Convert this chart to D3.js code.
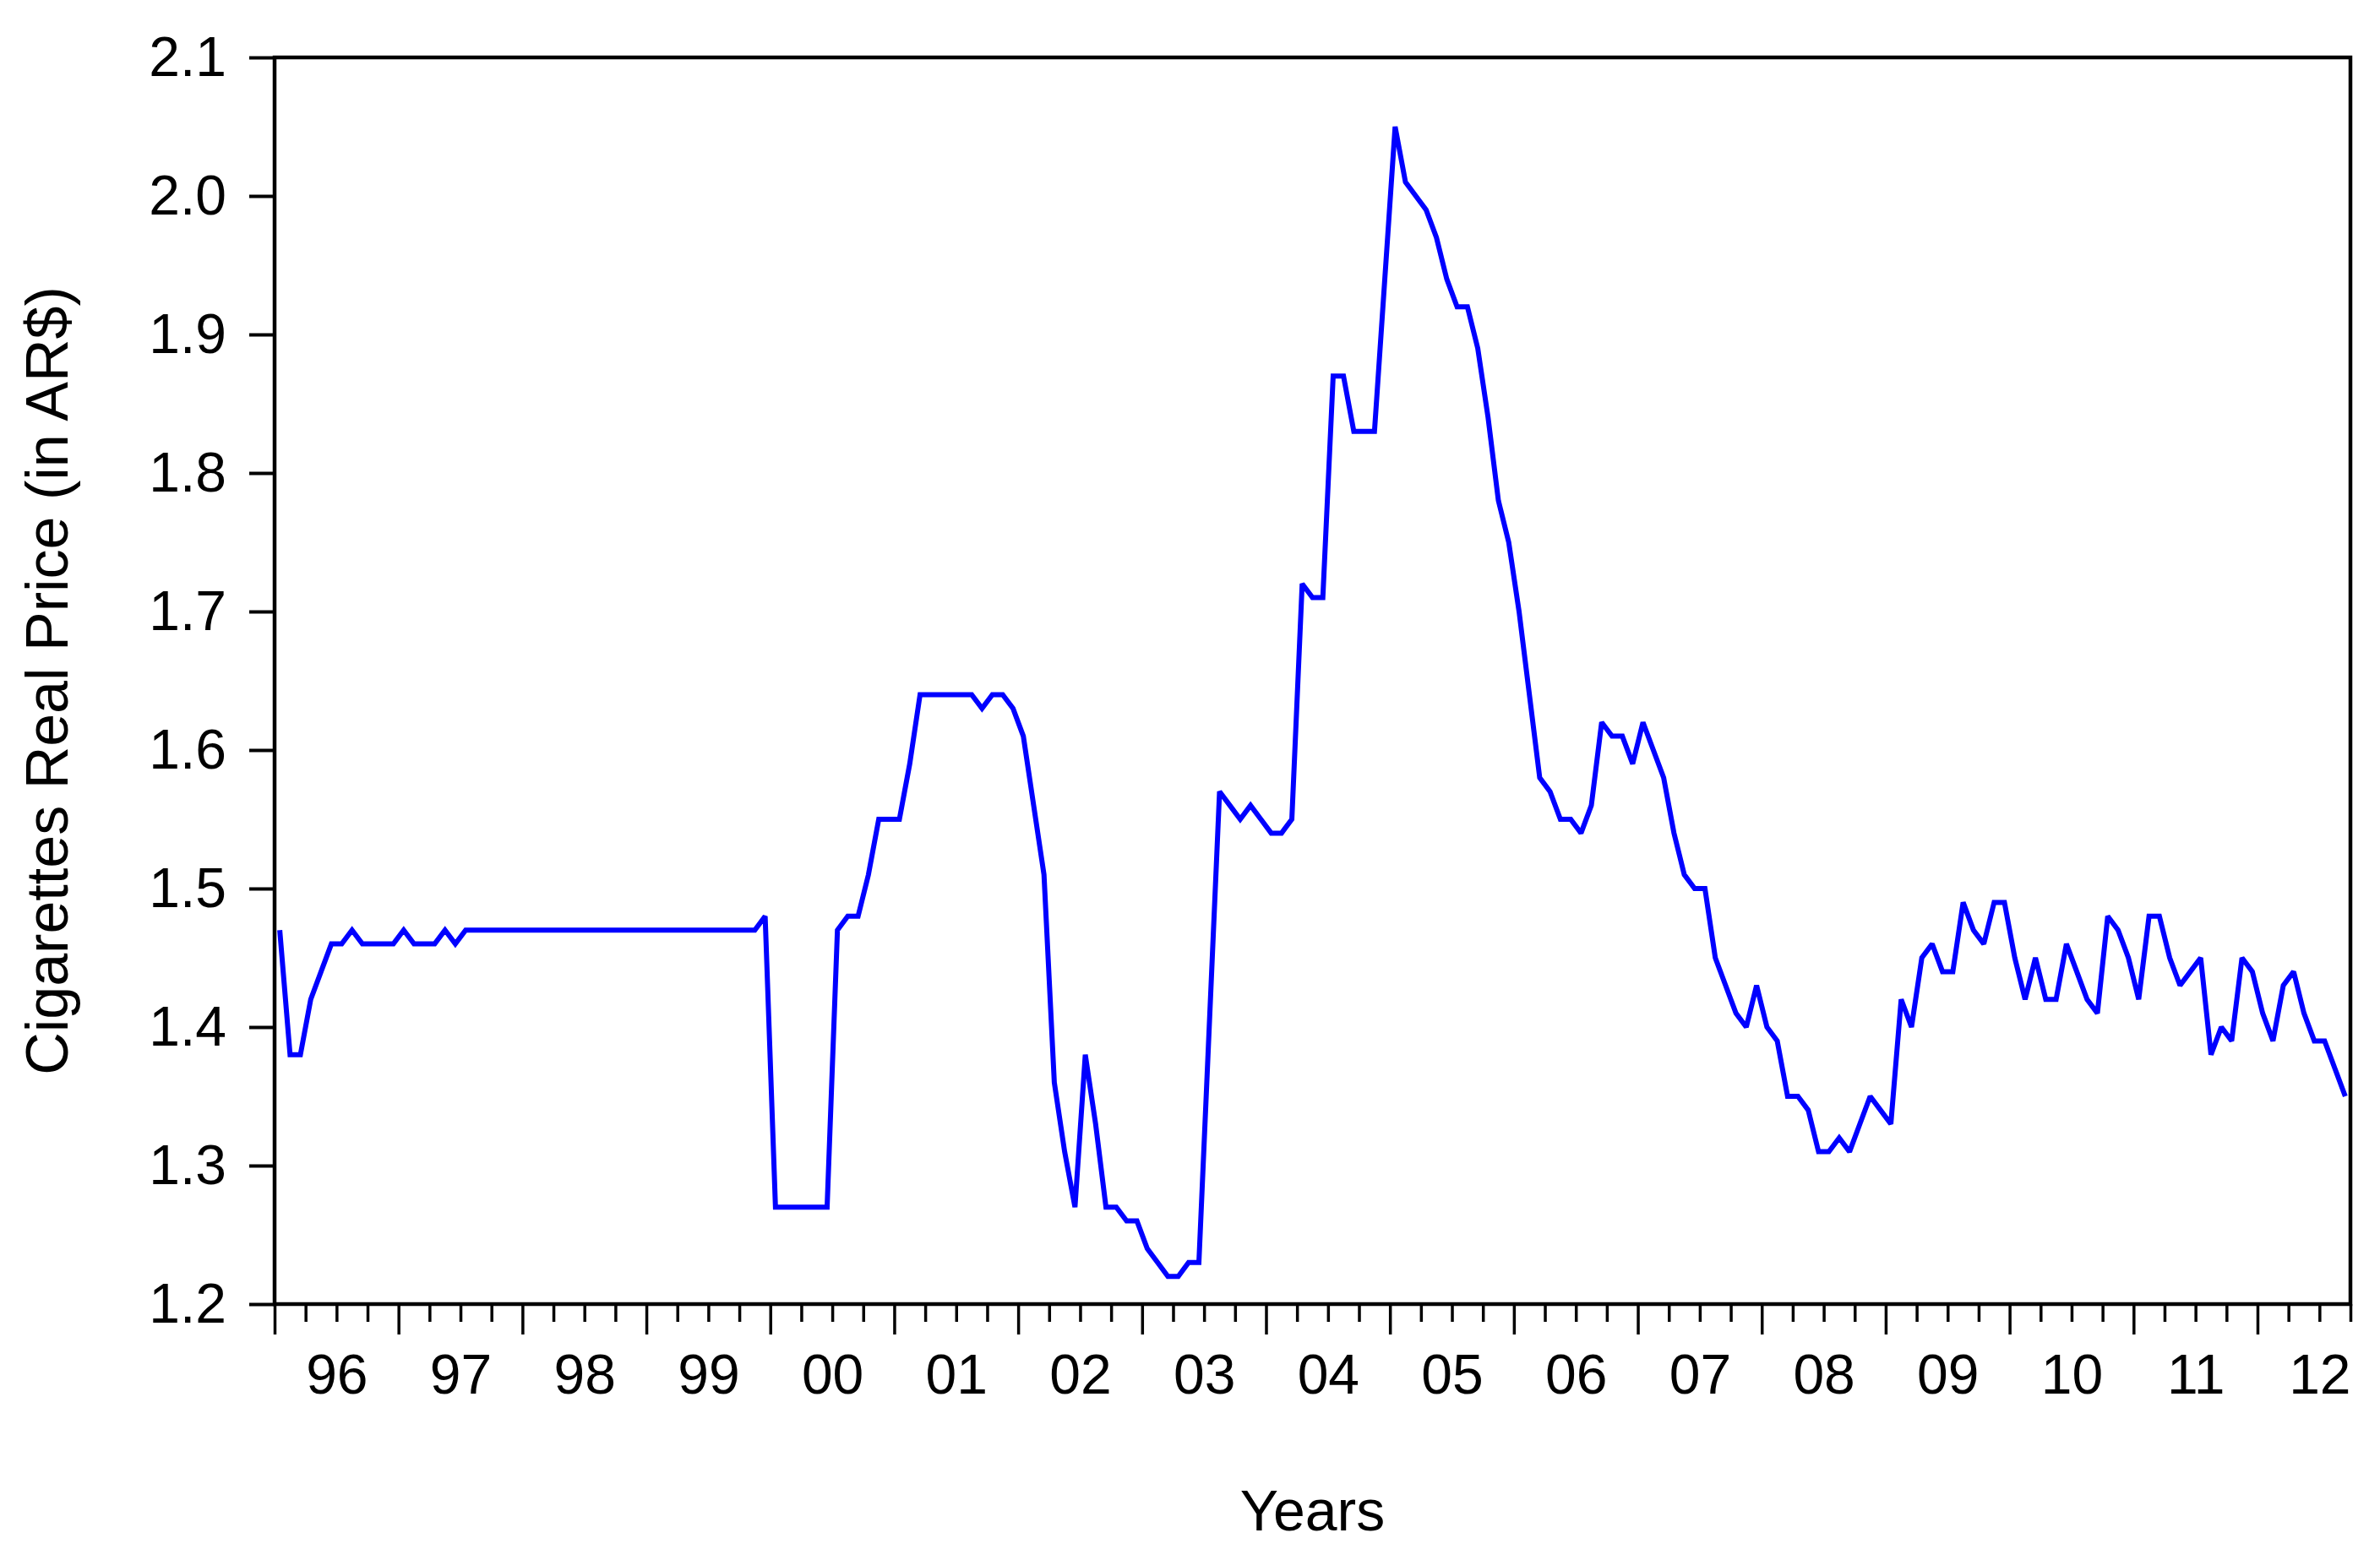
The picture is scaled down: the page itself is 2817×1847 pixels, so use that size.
<!DOCTYPE html>
<html>
<head>
<meta charset="utf-8">
<script src="https://cdn.jsdelivr.net/npm/d3@7"></script>
<style>
  html, body { margin: 0; padding: 0; background: #ffffff; }
  svg { display: block; }
  text { font-family: "Liberation Sans", Arial, sans-serif; fill: #000; }
</style>
</head>
<body>
<svg id="chart" width="2817" height="1847"></svg>
<script>
// ---- Data (monthly observations, 1996M01 .. 2012M09) ----
const startYear = 1996;
const prices = [
  // 1996
  1.47, 1.38, 1.38, 1.42, 1.44, 1.46, 1.46, 1.47, 1.46, 1.46, 1.46, 1.46,
  // 1997
  1.47, 1.46, 1.46, 1.46, 1.47, 1.46, 1.47, 1.47, 1.47, 1.47, 1.47, 1.47,
  // 1998
  1.47, 1.47, 1.47, 1.47, 1.47, 1.47, 1.47, 1.47, 1.47, 1.47, 1.47, 1.47,
  // 1999
  1.47, 1.47, 1.47, 1.47, 1.47, 1.47, 1.47, 1.47, 1.47, 1.47, 1.47, 1.48,
  // 2000
  1.27, 1.27, 1.27, 1.27, 1.27, 1.27, 1.47, 1.48, 1.48, 1.51, 1.55, 1.55,
  // 2001
  1.55, 1.59, 1.64, 1.64, 1.64, 1.64, 1.64, 1.64, 1.63, 1.64, 1.64, 1.63,
  // 2002
  1.61, 1.56, 1.51, 1.36, 1.31, 1.27, 1.38, 1.33, 1.27, 1.27, 1.26, 1.26,
  // 2003
  1.24, 1.23, 1.22, 1.22, 1.23, 1.23, 1.40, 1.57, 1.56, 1.55, 1.56, 1.55,
  // 2004
  1.54, 1.54, 1.55, 1.72, 1.71, 1.71, 1.87, 1.87, 1.83, 1.83, 1.83, 1.94,
  // 2005
  2.05, 2.01, 2.00, 1.99, 1.97, 1.94, 1.92, 1.92, 1.89, 1.84, 1.78, 1.75,
  // 2006
  1.70, 1.64, 1.58, 1.57, 1.55, 1.55, 1.54, 1.56, 1.62, 1.61, 1.61, 1.59,
  // 2007
  1.62, 1.60, 1.58, 1.54, 1.51, 1.50, 1.50, 1.45, 1.43, 1.41, 1.40, 1.43,
  // 2008
  1.40, 1.39, 1.35, 1.35, 1.34, 1.31, 1.31, 1.32, 1.31, 1.33, 1.35, 1.34,
  // 2009
  1.33, 1.42, 1.40, 1.45, 1.46, 1.44, 1.44, 1.49, 1.47, 1.46, 1.49, 1.49,
  // 2010
  1.45, 1.42, 1.45, 1.42, 1.42, 1.46, 1.44, 1.42, 1.41, 1.48, 1.47, 1.45,
  // 2011
  1.42, 1.48, 1.48, 1.45, 1.43, 1.44, 1.45, 1.38, 1.40, 1.39, 1.45, 1.44,
  // 2012
  1.41, 1.39, 1.43, 1.44, 1.41, 1.39, 1.39, 1.37, 1.35
];
const yearLabels = ["96","97","98","99","00","01","02","03","04","05","06","07","08","09","10","11","12"];
const yTicks = [1.2, 1.3, 1.4, 1.5, 1.6, 1.7, 1.8, 1.9, 2.0, 2.1];
const yTitle = "Cigarettes Real Price (in AR$)";
const xTitle = "Years";

// ---- Layout ----
const W = 2817, H = 1847;
const plotLeft = 325, plotRight = 2782, plotTop = 68, plotBottom = 1544;
const fontSize = 66;

const svg = d3.select("#chart");
svg.append("rect").attr("width", W).attr("height", H).attr("fill", "#fff");

const nObs = prices.length;
const x = d3.scaleLinear().domain([0, nObs]).range([plotLeft, plotRight]);
const y = d3.scaleLinear().domain([1.2, 2.1]).range([plotBottom, plotTop]);

// ---- Y axis ----
const yAxis = d3.axisLeft(y)
  .tickValues(yTicks)
  .tickFormat(d3.format(".1f"))
  .tickSize(30)
  .tickPadding(27);
const gy = svg.append("g").attr("transform", `translate(${plotLeft},0)`).call(yAxis);
gy.select(".domain").remove();
gy.selectAll(".tick line").attr("stroke", "#000").attr("stroke-width", 4);
gy.selectAll(".tick text")
  .attr("font-size", fontSize)
  .attr("font-family", "'Liberation Sans', Arial, sans-serif")
  .attr("fill", "#000");

// ---- X axis: major (year) and minor (quarter) ticks ----
const majorTicks = d3.range(0, nObs, 12);
const minorTicks = d3.range(0, nObs + 1, 3).filter(d => d % 12 !== 0);

const gxMajor = svg.append("g").attr("transform", `translate(0,${plotBottom})`)
  .call(d3.axisBottom(x).tickValues(majorTicks).tickSize(36).tickFormat(""));
gxMajor.select(".domain").remove();
gxMajor.selectAll(".tick line").attr("stroke", "#000").attr("stroke-width", 3.5);

const gxMinor = svg.append("g").attr("transform", `translate(0,${plotBottom})`)
  .call(d3.axisBottom(x).tickValues(minorTicks).tickSize(21).tickFormat(""));
gxMinor.select(".domain").remove();
gxMinor.selectAll(".tick line").attr("stroke", "#000").attr("stroke-width", 3.5);

// Year labels centered in each year
const labelPos = yearLabels.map((_, i) => i * 12 + 6);
const gxLab = svg.append("g").attr("transform", `translate(0,${plotBottom})`)
  .call(d3.axisBottom(x).tickValues(labelPos)
    .tickFormat((d, i) => yearLabels[i]).tickSize(0).tickPadding(59));
gxLab.select(".domain").remove();
gxLab.selectAll(".tick text")
  .attr("font-size", fontSize)
  .attr("font-family", "'Liberation Sans', Arial, sans-serif")
  .attr("fill", "#000");

// ---- Line ----
const line = d3.line()
  .x((d, i) => x(i + 0.5))
  .y(d => y(d));
svg.append("path")
  .datum(prices)
  .attr("d", line)
  .attr("fill", "none")
  .attr("stroke", "#0000ff")
  .attr("stroke-width", 6)
  .attr("stroke-linejoin", "miter")
  .attr("stroke-miterlimit", 2);

// ---- Frame ----
svg.append("rect")
  .attr("x", plotLeft).attr("y", plotTop)
  .attr("width", plotRight - plotLeft).attr("height", plotBottom - plotTop)
  .attr("fill", "none").attr("stroke", "#000").attr("stroke-width", 4.5);

// ---- Titles ----
svg.append("text")
  .attr("transform", `translate(80,${(plotTop + plotBottom) / 2}) rotate(-90)`)
  .attr("text-anchor", "middle")
  .attr("font-size", 70)
  .text(yTitle);

svg.append("text")
  .attr("x", (plotLeft + plotRight) / 2)
  .attr("y", 1812)
  .attr("text-anchor", "middle")
  .attr("font-size", 68)
  .text(xTitle);
</script>
</body>
</html>
